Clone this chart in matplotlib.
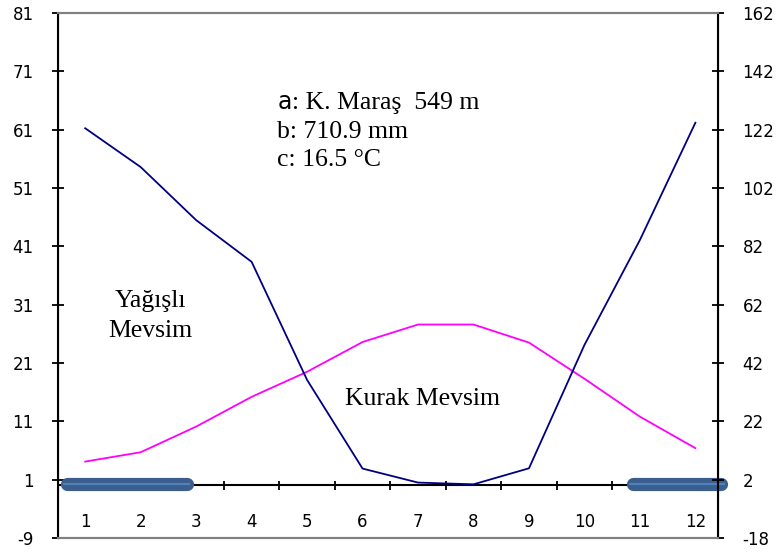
"""
Walter-Lieth style climate diagram for K. Maras: monthly temperature (left axis)
and precipitation (right axis, 2 mm per degree).
"""

import numpy as np
import matplotlib.pyplot as plt

plt.rcParams["axes.unicode_minus"] = False

months = np.arange(1, 13)
month_labels = [str(m) for m in months]

# monthly mean temperature (degC)
temperature = [4.1, 5.7, 10.1, 15.2, 19.5, 24.6, 27.6, 27.6, 24.5, 18.3, 11.8, 6.4]
# monthly precipitation (mm)
precipitation = [122.5, 109.2, 91.0, 76.7, 36.2, 5.8, 1.0, 0.4, 5.9, 48.2, 84.2, 124.4]

# frost periods (month ranges)
frost_periods = [(0.67, 2.83), (10.88, 12.47)]

left_ticks = np.arange(-9, 82, 10)
right_ticks = np.arange(-18, 163, 20)

station_lines = [": K. Maraş  549 m", "b: 710.9 mm", "c: 16.5 °C"]

serif = ["Liberation Serif", "DejaVu Serif"]
sans = ["DejaVu Sans"]
txt_size = 18.5

fig = plt.figure(figsize=(7.84, 5.59), dpi=100)
ax = fig.add_axes([0.074, 0.0376, 0.842, 0.939])
ax2 = ax.twinx()

ax.set_xlim(0.51, 12.41)
ax.set_ylim(-9, 81)
ax2.set_ylim(-18, 162)

# temperature and precipitation curves
ax.plot(months, temperature, color="#FF00FF", lw=1.3, zorder=3)
ax2.plot(months, precipitation, color="#000080", lw=1.3, zorder=3)

# inner month axis at zero
ax.axhline(0, color="black", lw=1.5, zorder=2)
ax.vlines(np.arange(1.5, 12, 1), -0.8, 0.8, color="black", lw=1.3, zorder=2)
for m, lab in zip(months, month_labels):
    ax.text(m, -6.2, lab, ha="center", va="center", fontsize=12, family=sans)

# frost bars
for x0, x1 in frost_periods:
    ax.plot([x0, x1], [0.3, 0.3], color="#3B5E8C", lw=9.5, solid_capstyle="round",
            clip_on=False, zorder=5)
    ax.plot([x0 - 0.05, x1 + 0.05], [0.3, 0.3], color="#4F81BD", lw=1.5,
            clip_on=False, zorder=6)

# axes styling
ax.set_xticks([])
ax.set_yticks(left_ticks)
ax2.set_yticks(right_ticks)
for a in (ax, ax2):
    a.tick_params(axis="y", direction="inout", length=9, width=1.3, labelsize=12)
    a.spines["top"].set_color("#808080")
    a.spines["bottom"].set_color("#808080")
    a.spines["top"].set_linewidth(1.5)
    a.spines["bottom"].set_linewidth(1.5)
ax.spines["left"].set_linewidth(1.5)
ax2.spines["right"].set_linewidth(1.5)
ax.tick_params(axis="y", pad=13)
ax2.tick_params(axis="y", pad=13)

# station info, "a" is set in a sans font
t_a = ax.text(4.46, 64.5, "a", fontsize=17, family=sans, va="baseline")
ax.annotate(station_lines[0], xy=(1, 0), xycoords=t_a, va="bottom",
            fontsize=txt_size, family=serif)
ax.text(4.46, 59.6, station_lines[1], fontsize=txt_size, family=serif, va="baseline")
ax.text(4.46, 54.8, station_lines[2], fontsize=txt_size, family=serif, va="baseline")

ax.text(2.17, 30.65, "Yağışlı", ha="center", va="baseline", fontsize=txt_size,
        family=serif)
ax.text(2.17, 25.5, "Mevsim", ha="center", va="baseline", fontsize=txt_size,
        family=serif)
ax.text(7.08, 13.8, "Kurak Mevsim", ha="center", va="baseline", fontsize=txt_size,
        family=serif)

fig.savefig("out.png", dpi=100)
